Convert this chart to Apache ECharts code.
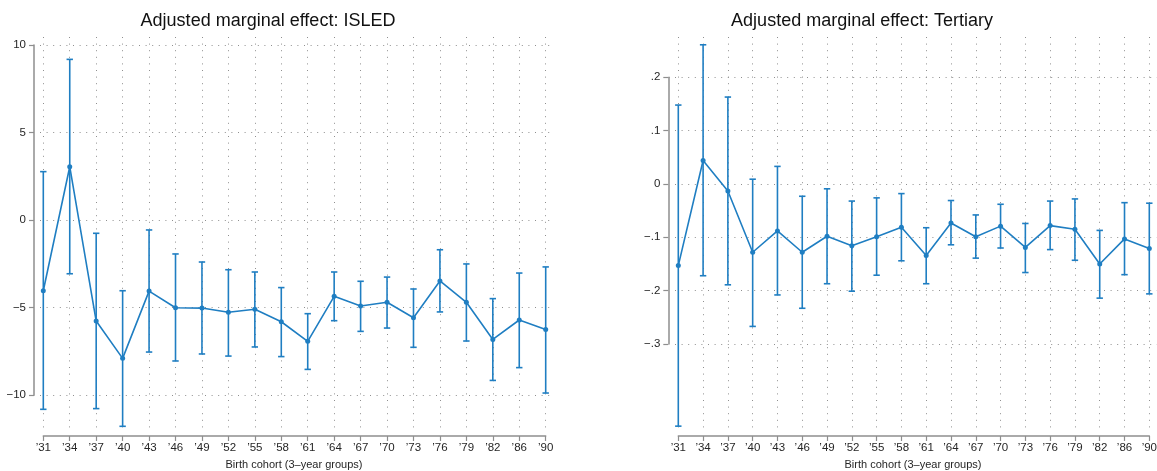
<!DOCTYPE html>
<html>
<head>
<meta charset="utf-8">
<script src="https://cdn.jsdelivr.net/npm/echarts@6/dist/echarts.min.js"></script>
<style>html,body{margin:0;padding:0;background:#fff}#c{width:1157px;height:471px}</style>
</head>
<body>
<div id="c"></div>
<script>
const categories = ["’31","’34","’37","’40","’43","’46","’49","’52","’55","’58","’61","’64","’67","’70","’73","’76","’79","’82","’86","’90"];

const isledEst  = [-4.03, 3.05, -5.76, -7.89, -4.05, -5.00, -5.02, -5.26, -5.09, -5.80, -6.92, -4.35, -4.90, -4.69, -5.57, -3.47, -4.69, -6.81, -5.70, -6.25];
const isledLow  = [-10.80, -3.06, -10.76, -11.77, -7.53, -8.04, -7.64, -7.76, -7.24, -7.79, -8.52, -5.74, -6.35, -6.16, -7.26, -5.24, -6.90, -9.15, -8.42, -9.87];
const isledHigh = [2.77, 9.18, -0.75, -4.03, -0.56, -1.93, -2.39, -2.83, -2.96, -3.85, -5.34, -2.96, -3.49, -3.25, -3.93, -1.69, -2.50, -4.48, -3.02, -2.67];

const tertEst  = [-0.153, 0.044, -0.013, -0.128, -0.088, -0.128, -0.098, -0.116, -0.099, -0.081, -0.134, -0.073, -0.099, -0.079, -0.119, -0.078, -0.085, -0.150, -0.103, -0.121];
const tertLow  = [-0.454, -0.172, -0.189, -0.267, -0.208, -0.233, -0.187, -0.201, -0.171, -0.144, -0.187, -0.114, -0.139, -0.120, -0.166, -0.123, -0.143, -0.214, -0.170, -0.206];
const tertHigh = [0.148, 0.261, 0.163, 0.009, 0.033, -0.023, -0.009, -0.032, -0.026, -0.018, -0.082, -0.031, -0.058, -0.038, -0.074, -0.032, -0.028, -0.087, -0.035, -0.036];

const titles = ["Adjusted marginal effect: ISLED", "Adjusted marginal effect: Tertiary"];
const xName = "Birth cohort (3–year groups)";

const BLUE = '#1f7ec2';
const AXIS = '#8e8e8e';
const GRID = '#8f8f8f';
const TXT = '#262626';
const FONT = '"Liberation Sans", Arial, Helvetica, sans-serif';

function errData(lo, hi){ return lo.map((v,i)=>[i, v, hi[i]]); }
function renderErr(params, api){
  const x = api.value(0);
  const lo = api.coord([x, api.value(1)]);
  const hi = api.coord([x, api.value(2)]);
  const cw = 3.2;
  const st = {stroke: BLUE, lineWidth: 1.6};
  return {type:'group', children:[
    {type:'line', shape:{x1:lo[0], y1:lo[1], x2:hi[0], y2:hi[1]}, style:st},
    {type:'line', shape:{x1:lo[0]-cw, y1:lo[1], x2:lo[0]+cw, y2:lo[1]}, style:st},
    {type:'line', shape:{x1:hi[0]-cw, y1:hi[1], x2:hi[0]+cw, y2:hi[1]}, style:st}
  ]};
}
function isledFmt(v){ return String(Math.round(v)).replace('-', '−'); }
function tertFmt(v){
  const n = Math.round(v*10);
  if (n === 0) return '0';
  return (n < 0 ? '−' : '') + '.' + Math.abs(n);
}

const dotted = {color: GRID, width: 1, type: [1, 5.6]};

function catAxis(gi){
  return {
    type:'category', gridIndex: gi, data: categories, boundaryGap: false, offset: 5,
    axisLine:{show:true, onZero:false, lineStyle:{color:AXIS, width:1.5}},
    axisTick:{show:true, length:5, alignWithLabel:true, lineStyle:{color:AXIS, width:1.2}},
    axisLabel:{show:true, interval:0, margin:6, fontSize:11.5, color:TXT, fontFamily:FONT, hideOverlap:false},
    splitLine:{show:true, interval:0, lineStyle:dotted}
  };
}
function hiddenX(gi){ return {type:'value', gridIndex:gi, min:0, max:1, show:false}; }

const option = {
  animation: false,
  backgroundColor: '#fff',
  grid: [
    {left:43.3, top:37, width:502.4, height:394, outerBoundsMode:'none', containLabel:false},
    {left:40, top:45, width:513, height:350.3, outerBoundsMode:'none', containLabel:false},
    {left:678.3, top:37, width:471, height:394, outerBoundsMode:'none', containLabel:false},
    {left:675, top:77.3, width:482, height:266.7, outerBoundsMode:'none', containLabel:false}
  ],
  xAxis: [catAxis(0), hiddenX(1), catAxis(2), hiddenX(3)],
  yAxis: [
    {type:'value', gridIndex:0, min:-12.038, max:10.457, show:false},
    {type:'value', gridIndex:1, min:-10, max:10, interval:5, offset:6,
      axisLine:{show:true, onZero:false, lineStyle:{color:AXIS, width:1.5}},
      axisTick:{show:true, length:5, lineStyle:{color:AXIS, width:1.2}},
      axisLabel:{margin:8, fontSize:11.5, color:TXT, fontFamily:FONT, formatter:isledFmt, showMinLabel:true, showMaxLabel:true},
      splitLine:{show:true, lineStyle:dotted}},
    {type:'value', gridIndex:2, min:-0.4631, max:0.2756, show:false},
    {type:'value', gridIndex:3, min:-0.3, max:0.2, interval:0.1, offset:6.7,
      axisLine:{show:true, onZero:false, lineStyle:{color:AXIS, width:1.5}},
      axisTick:{show:true, length:5, lineStyle:{color:AXIS, width:1.2}},
      axisLabel:{margin:8, fontSize:11.5, color:TXT, fontFamily:FONT, formatter:tertFmt, showMinLabel:true, showMaxLabel:true},
      splitLine:{show:true, lineStyle:dotted}}
  ],
  series: [
    {type:'custom', xAxisIndex:0, yAxisIndex:0, data: errData(isledLow, isledHigh), renderItem: renderErr, encode:{x:0, y:[1,2]}, z:3},
    {type:'line', xAxisIndex:0, yAxisIndex:0, data: isledEst, symbol:'circle', symbolSize:5,
      lineStyle:{color:BLUE, width:1.6}, itemStyle:{color:BLUE}, z:4},
    {type:'custom', xAxisIndex:2, yAxisIndex:2, data: errData(tertLow, tertHigh), renderItem: renderErr, encode:{x:0, y:[1,2]}, z:3},
    {type:'line', xAxisIndex:2, yAxisIndex:2, data: tertEst, symbol:'circle', symbolSize:5,
      lineStyle:{color:BLUE, width:1.6}, itemStyle:{color:BLUE}, z:4}
  ],
  graphic: [
    {type:'text', x:268, y:21.5, style:{text:titles[0], fill:'#111', font:'18px '+FONT, textAlign:'center', textVerticalAlign:'middle'}},
    {type:'text', x:862, y:21.5, style:{text:titles[1], fill:'#111', font:'18px '+FONT, textAlign:'center', textVerticalAlign:'middle'}},
    {type:'text', x:294, y:464.5, style:{text:xName, fill:TXT, font:'11px '+FONT, textAlign:'center', textVerticalAlign:'middle'}},
    {type:'text', x:913, y:464.5, style:{text:xName, fill:TXT, font:'11px '+FONT, textAlign:'center', textVerticalAlign:'middle'}}
  ]
};

const chart = echarts.init(document.getElementById('c'), null, {renderer:'canvas'});
chart.setOption(option);
</script>
</body>
</html>
